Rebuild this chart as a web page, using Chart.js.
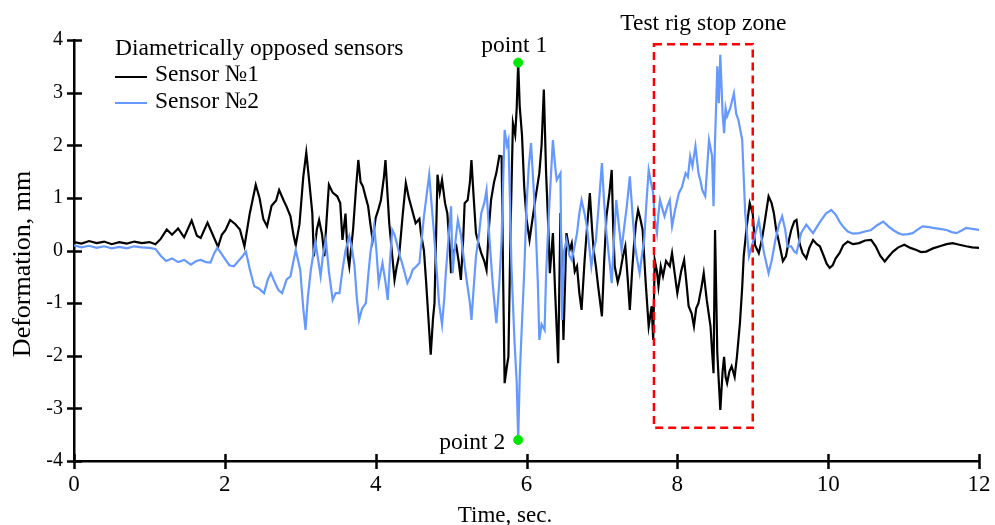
<!DOCTYPE html>
<html>
<head>
<meta charset="utf-8">
<script src="https://cdn.jsdelivr.net/npm/chart.js@4/dist/chart.umd.min.js"></script>
<style>
html,body{margin:0;padding:0;background:#fff;}
#wrap{width:995px;height:525px;position:relative;}
</style>
</head>
<body>
<div id="wrap"><canvas id="c"></canvas></div>
<script>
// ---- data ----
const t1 = [0.00,0.10,0.20,0.30,0.40,0.50,0.60,0.70,0.80,0.90,1.00,1.08,1.15,1.23,1.30,1.38,1.46,1.56,1.63,1.68,1.77,1.84,1.91,1.96,2.01,2.07,2.14,2.20,2.26,2.33,2.41,2.46,2.51,2.56,2.62,2.68,2.72,2.78,2.82,2.87,2.91,2.94,2.99,3.04,3.08,3.12,3.16,3.18,3.22,3.25,3.29,3.32,3.35,3.38,3.43,3.49,3.53,3.56,3.60,3.63,3.65,3.70,3.74,3.77,3.80,3.83,3.87,3.90,3.93,3.96,4.00,4.04,4.07,4.11,4.13,4.16,4.18,4.22,4.25,4.28,4.31,4.36,4.40,4.44,4.47,4.53,4.58,4.60,4.64,4.67,4.70,4.73,4.76,4.78,4.80,4.82,4.85,4.88,4.92,4.95,4.98,5.00,5.04,5.07,5.10,5.13,5.16,5.18,5.22,5.25,5.27,5.30,5.33,5.37,5.40,5.44,5.47,5.50,5.53,5.57,5.60,5.64,5.67,5.69,5.71,5.74,5.76,5.79,5.82,5.85,5.87,5.89,5.91,5.94,5.97,6.00,6.04,6.08,6.12,6.17,6.20,6.23,6.26,6.29,6.31,6.35,6.38,6.42,6.45,6.49,6.53,6.57,6.60,6.64,6.67,6.70,6.73,6.77,6.80,6.84,6.87,6.89,6.92,6.95,7.00,7.03,7.06,7.10,7.13,7.15,7.17,7.21,7.24,7.28,7.31,7.34,7.37,7.40,7.42,7.45,7.48,7.51,7.54,7.58,7.62,7.66,7.68,7.70,7.73,7.75,7.78,7.81,7.85,7.90,7.93,7.97,8.00,8.05,8.09,8.12,8.15,8.19,8.22,8.25,8.28,8.32,8.35,8.39,8.44,8.46,8.48,8.50,8.53,8.55,8.57,8.60,8.62,8.64,8.66,8.69,8.72,8.76,8.79,8.83,8.86,8.88,8.92,8.96,9.00,9.03,9.08,9.12,9.15,9.21,9.25,9.28,9.31,9.35,9.40,9.44,9.48,9.51,9.55,9.58,9.62,9.66,9.71,9.75,9.80,9.85,9.89,9.94,9.98,10.02,10.06,10.10,10.15,10.20,10.26,10.33,10.41,10.49,10.57,10.63,10.69,10.75,10.80,10.86,10.93,11.01,11.09,11.17,11.23,11.30,11.39,11.48,11.57,11.65,11.74,11.83,11.91,12.00];
const sensor1 = [0.16,0.13,0.18,0.14,0.17,0.12,0.16,0.13,0.17,0.14,0.16,0.12,0.22,0.40,0.30,0.42,0.25,0.57,0.28,0.24,0.53,0.30,0.07,0.30,0.39,0.58,0.50,0.40,0.08,0.70,1.25,1.00,0.60,0.46,0.85,0.95,1.15,0.95,0.83,0.65,0.30,0.10,0.50,1.40,1.86,1.30,0.71,-0.11,0.40,0.58,0.30,-0.11,0.60,1.25,1.10,1.03,0.90,0.20,0.70,-0.11,-0.30,0.39,1.20,1.72,1.30,1.22,1.00,0.84,0.50,0.20,0.62,0.80,0.96,1.40,1.72,1.00,0.52,-0.10,-0.56,-0.30,-0.11,0.70,1.28,1.00,0.84,0.52,0.60,0.33,0.00,-0.62,-1.30,-1.98,-1.30,-1.00,0.20,1.44,1.10,1.34,0.90,0.71,0.10,-0.43,0.00,0.08,-0.20,-0.56,0.20,0.90,0.96,1.30,1.72,1.00,0.33,0.10,-0.05,-0.20,-0.37,0.40,0.96,1.30,1.47,1.80,1.79,-0.50,-2.52,-2.20,-2.02,0.50,2.42,2.20,2.70,3.57,2.74,2.20,1.20,0.60,0.20,0.60,1.00,1.47,2.00,3.06,1.47,0.40,-0.43,0.33,-0.80,-2.14,0.71,-1.70,0.33,0.00,0.14,-0.40,-0.30,-0.80,-1.13,-0.20,0.39,1.09,0.40,0.01,-0.30,-0.68,-1.25,-0.20,0.65,1.10,1.53,0.40,-0.30,-0.60,-0.43,-0.10,0.08,-0.50,-1.13,-0.40,0.01,0.50,0.77,0.60,0.39,-0.60,-1.44,-1.06,-1.70,-0.18,-0.40,-0.68,-0.30,-0.49,-0.20,-0.30,-0.05,-0.49,-0.81,-0.40,-0.18,-0.60,-1.06,-1.20,-1.44,-1.10,-1.00,-0.70,-0.43,-0.94,-1.44,-1.90,-2.33,0.39,-1.95,-2.50,-3.03,-2.30,-2.02,-2.40,-2.52,-2.30,-2.20,-2.40,-2.02,-1.38,-0.70,-0.11,0.46,0.90,0.70,0.10,-0.05,0.20,0.46,1.03,0.90,0.71,0.40,0.14,-0.20,-0.11,0.20,0.39,0.55,0.58,0.14,-0.05,-0.15,0.05,0.20,0.12,0.08,-0.10,-0.25,-0.33,-0.28,-0.15,-0.05,0.10,0.17,0.12,0.14,0.19,0.20,0.08,-0.10,-0.21,-0.12,-0.02,0.06,0.11,0.05,0.01,-0.03,-0.02,0.04,0.08,0.12,0.14,0.11,0.08,0.06,0.05];

const t2 = [0.00,0.10,0.20,0.30,0.40,0.50,0.60,0.70,0.80,0.90,1.00,1.08,1.15,1.22,1.30,1.38,1.46,1.55,1.62,1.68,1.75,1.81,1.86,1.90,1.95,2.01,2.06,2.12,2.18,2.24,2.28,2.33,2.39,2.45,2.52,2.57,2.61,2.66,2.71,2.76,2.82,2.87,2.91,2.94,3.00,3.04,3.07,3.10,3.14,3.17,3.20,3.24,3.27,3.30,3.34,3.38,3.43,3.47,3.52,3.56,3.60,3.65,3.69,3.72,3.75,3.78,3.82,3.87,3.90,3.93,3.98,4.01,4.04,4.09,4.13,4.16,4.19,4.22,4.25,4.28,4.32,4.35,4.39,4.42,4.46,4.49,4.54,4.58,4.61,4.64,4.68,4.71,4.74,4.77,4.81,4.84,4.88,4.91,4.93,4.97,5.00,5.02,5.06,5.09,5.13,5.16,5.20,5.25,5.27,5.30,5.33,5.37,5.40,5.44,5.47,5.51,5.55,5.60,5.64,5.67,5.69,5.71,5.74,5.76,5.78,5.80,5.84,5.87,5.89,5.91,5.93,5.97,6.00,6.03,6.06,6.09,6.12,6.15,6.17,6.20,6.24,6.26,6.30,6.35,6.38,6.40,6.45,6.47,6.50,6.53,6.57,6.60,6.64,6.67,6.70,6.73,6.77,6.80,6.83,6.86,6.89,6.92,6.96,7.00,7.03,7.06,7.10,7.13,7.16,7.19,7.23,7.26,7.30,7.33,7.37,7.41,7.44,7.47,7.50,7.53,7.56,7.59,7.62,7.65,7.68,7.70,7.73,7.75,7.77,7.80,7.83,7.87,7.90,7.93,7.97,8.02,8.06,8.11,8.14,8.17,8.20,8.24,8.28,8.31,8.33,8.37,8.42,8.46,8.48,8.50,8.52,8.53,8.55,8.57,8.60,8.62,8.64,8.66,8.70,8.75,8.78,8.81,8.86,8.88,8.90,8.95,9.01,9.05,9.08,9.12,9.15,9.21,9.25,9.30,9.35,9.39,9.43,9.46,9.51,9.55,9.58,9.64,9.71,9.76,9.80,9.85,9.91,9.97,10.04,10.10,10.15,10.20,10.26,10.33,10.41,10.49,10.57,10.65,10.73,10.80,10.86,10.93,10.99,11.06,11.12,11.19,11.25,11.32,11.39,11.48,11.57,11.64,11.70,11.77,11.83,11.91,12.00];
const sensor2 = [0.10,0.06,0.09,0.05,0.08,0.04,0.07,0.04,0.08,0.06,0.05,0.03,-0.10,-0.20,-0.15,-0.22,-0.18,-0.27,-0.20,-0.18,-0.22,-0.23,-0.05,0.05,-0.05,-0.18,-0.28,-0.30,-0.20,-0.10,-0.02,-0.35,-0.68,-0.72,-0.81,-0.55,-0.43,-0.60,-0.75,-0.81,-0.55,-0.49,-0.20,0.01,-0.37,-1.10,-1.51,-0.90,-0.37,-0.10,0.17,-0.20,-0.49,-0.10,0.20,-0.40,-0.94,-0.81,-0.81,-0.37,0.00,0.27,0.00,-0.30,-0.90,-1.32,-1.10,-1.00,-0.50,-0.05,0.46,0.00,-0.62,-0.24,-0.60,-0.94,-0.20,0.39,0.30,0.14,-0.10,-0.24,-0.45,-0.62,-0.50,-0.37,-0.30,-0.24,0.20,0.65,1.10,1.44,0.90,0.39,-0.40,-1.00,-1.41,-0.90,-0.43,0.30,0.84,-0.43,0.20,0.58,0.30,-0.05,-0.50,-1.00,-1.32,-0.70,-0.11,0.30,0.71,0.90,1.15,0.20,-0.60,-1.38,-0.60,0.20,1.30,2.29,2.00,2.10,1.00,-0.30,-1.70,-2.50,-3.60,-2.40,-1.70,-0.40,0.84,1.60,2.04,1.30,0.52,-0.60,-1.70,-1.40,-1.51,-0.43,0.80,2.10,1.60,1.34,1.47,-1.32,0.00,0.20,-0.10,-0.18,0.10,0.33,0.70,0.96,0.70,0.46,0.10,-0.30,0.00,0.20,0.90,1.66,0.90,0.33,-0.20,-0.62,0.20,0.96,0.40,0.01,0.50,0.84,1.41,0.60,0.08,-0.20,-0.43,-0.10,0.20,0.90,1.53,1.30,1.09,0.60,0.33,0.70,0.96,0.80,0.65,0.85,0.96,0.46,0.77,1.09,1.20,1.47,1.40,1.79,1.60,1.98,1.47,1.30,1.15,1.03,2.10,1.80,0.84,2.10,3.00,3.50,2.80,3.72,2.60,2.23,2.70,2.55,2.70,2.99,2.60,2.48,2.10,1.40,0.71,-0.11,0.20,0.40,0.58,0.20,-0.05,-0.43,-0.20,0.20,0.50,0.65,0.40,0.08,0.08,-0.02,-0.05,0.33,0.49,0.40,0.33,0.45,0.58,0.70,0.77,0.68,0.55,0.45,0.36,0.32,0.33,0.36,0.39,0.48,0.55,0.46,0.39,0.33,0.30,0.31,0.33,0.40,0.46,0.45,0.43,0.41,0.39,0.35,0.33,0.38,0.43,0.41,0.39];

const seriesNames = ['Sensor №1', 'Sensor №2'];
const legendTitle = 'Diametrically opposed sensors';
const markerTimes = [5.89, 5.89];
const markerValues = [3.57, -3.60];
const markerNames = ['point 1', 'point 2'];
const zoneTimes = [7.69, 9.0];
const zoneValues = [-3.37, 3.92];
const zoneName = 'Test rig stop zone';
const xTicks = [0, 2, 4, 6, 8, 10, 12];
const yTicks = [-4, -3, -2, -1, 0, 1, 2, 3, 4];
const xTitle = 'Time, sec.';
const yTitle = 'Deformation, mm';

// ---- chart ----
const FONT = '"Liberation Serif", "Times New Roman", serif';
const BLUE = '#6699ff';
const toPts = (xs, ys) => xs.map((x, i) => ({x: x, y: ys[i]}));

const decor = {
  id: 'decor',
  afterDraw(chart) {
    const ctx = chart.ctx, xs = chart.scales.x, ys = chart.scales.y;
    const ca = chart.chartArea;
    ctx.save();
    // tick marks crossing the axes
    ctx.strokeStyle = '#000'; ctx.lineWidth = 2.5;
    yTicks.forEach(v => {
      const p = Math.round(ys.getPixelForValue(v)) + 0.5;
      ctx.beginPath(); ctx.moveTo(ca.left - 7, p); ctx.lineTo(ca.left + 8, p); ctx.stroke();
    });
    xTicks.forEach(v => {
      const p = Math.round(xs.getPixelForValue(v)) + 0.5;
      ctx.beginPath(); ctx.moveTo(p, ca.bottom - 7); ctx.lineTo(p, ca.bottom + 8); ctx.stroke();
    });
    // stop zone box
    const x0 = xs.getPixelForValue(zoneTimes[0]), x1 = xs.getPixelForValue(zoneTimes[1]);
    const y0 = ys.getPixelForValue(zoneValues[1]), y1 = ys.getPixelForValue(zoneValues[0]);
    ctx.strokeStyle = '#ff0000'; ctx.lineWidth = 2.5; ctx.setLineDash([8, 5]);
    ctx.strokeRect(x0, y0, x1 - x0, y1 - y0);
    ctx.setLineDash([]);
    ctx.fillStyle = '#000';
    ctx.font = '23.5px ' + FONT;
    ctx.textAlign = 'center'; ctx.textBaseline = 'alphabetic';
    ctx.fillText(zoneName, (x0 + x1) / 2, y0 - 14);
    // point labels
    const px1 = xs.getPixelForValue(markerTimes[0]), py1 = ys.getPixelForValue(markerValues[0]);
    ctx.fillText(markerNames[0], px1 - 4, py1 - 11);
    const px2 = xs.getPixelForValue(markerTimes[1]), py2 = ys.getPixelForValue(markerValues[1]);
    ctx.textAlign = 'right';
    ctx.fillText(markerNames[1], px2 - 13, py2 + 9);
    // legend
    ctx.textAlign = 'left';
    ctx.fillText(legendTitle, 115, 55);
    const ds = chart.data.datasets;
    [[0, 77, 81], [1, 103, 108]].forEach(([i, ly, ty]) => {
      ctx.strokeStyle = ds[i].borderColor; ctx.lineWidth = 2;
      ctx.beginPath(); ctx.moveTo(115, ly); ctx.lineTo(147, ly); ctx.stroke();
      ctx.fillText(ds[i].label, 155, ty);
    });
    // axis titles
    ctx.textAlign = 'center';
    ctx.font = '23px ' + FONT;
    ctx.fillText(xTitle, 505, 522);
    ctx.font = '26px ' + FONT;
    ctx.translate(30, 264); ctx.rotate(-Math.PI / 2);
    ctx.fillText(yTitle, 0, 0);
    ctx.restore();
  }
};

new Chart(document.getElementById('c'), {
  type: 'line',
  data: {
    datasets: [
      {label: seriesNames[0], data: toPts(t1, sensor1), borderColor: '#000000', borderWidth: 2.2, pointRadius: 0, order: 3, tension: 0},
      {label: seriesNames[1], data: toPts(t2, sensor2), borderColor: BLUE, borderWidth: 2.2, pointRadius: 0, order: 2, tension: 0},
      {label: 'markers', type: 'scatter', data: toPts(markerTimes, markerValues), backgroundColor: '#00e600', borderColor: '#00e600', pointRadius: 4.5, order: 1}
    ]
  },
  options: {
    responsive: true, maintainAspectRatio: false, animation: false, devicePixelRatio: 1,
    layout: {padding: {left: 0, top: 40, right: 16, bottom: 0}},
    plugins: {legend: {display: false}, tooltip: {enabled: false}},
    scales: {
      x: {
        type: 'linear', min: 0, max: 12,
        afterBuildTicks: s => { s.ticks = xTicks.map(v => ({value: v})); },
        afterFit: s => { s.height = 64; s.paddingRight = 0; s.paddingLeft = 0; },
        grid: {display: false, drawTicks: false},
        border: {display: true, color: '#000', width: 2.5},
        ticks: {color: '#000', padding: 10, font: {family: FONT, size: 23}, maxRotation: 0}
      },
      y: {
        type: 'linear', min: -4, max: 4,
        afterBuildTicks: s => { s.ticks = yTicks.map(v => ({value: v})); },
        afterFit: s => { s.width = 74; s.paddingTop = 0; s.paddingBottom = 0; },
        grid: {display: false, drawTicks: false},
        border: {display: true, color: '#000', width: 2.5},
        ticks: {color: '#000', padding: 11, font: {family: FONT, size: 20}}
      }
    }
  },
  plugins: [decor]
});
</script>
</body>
</html>
